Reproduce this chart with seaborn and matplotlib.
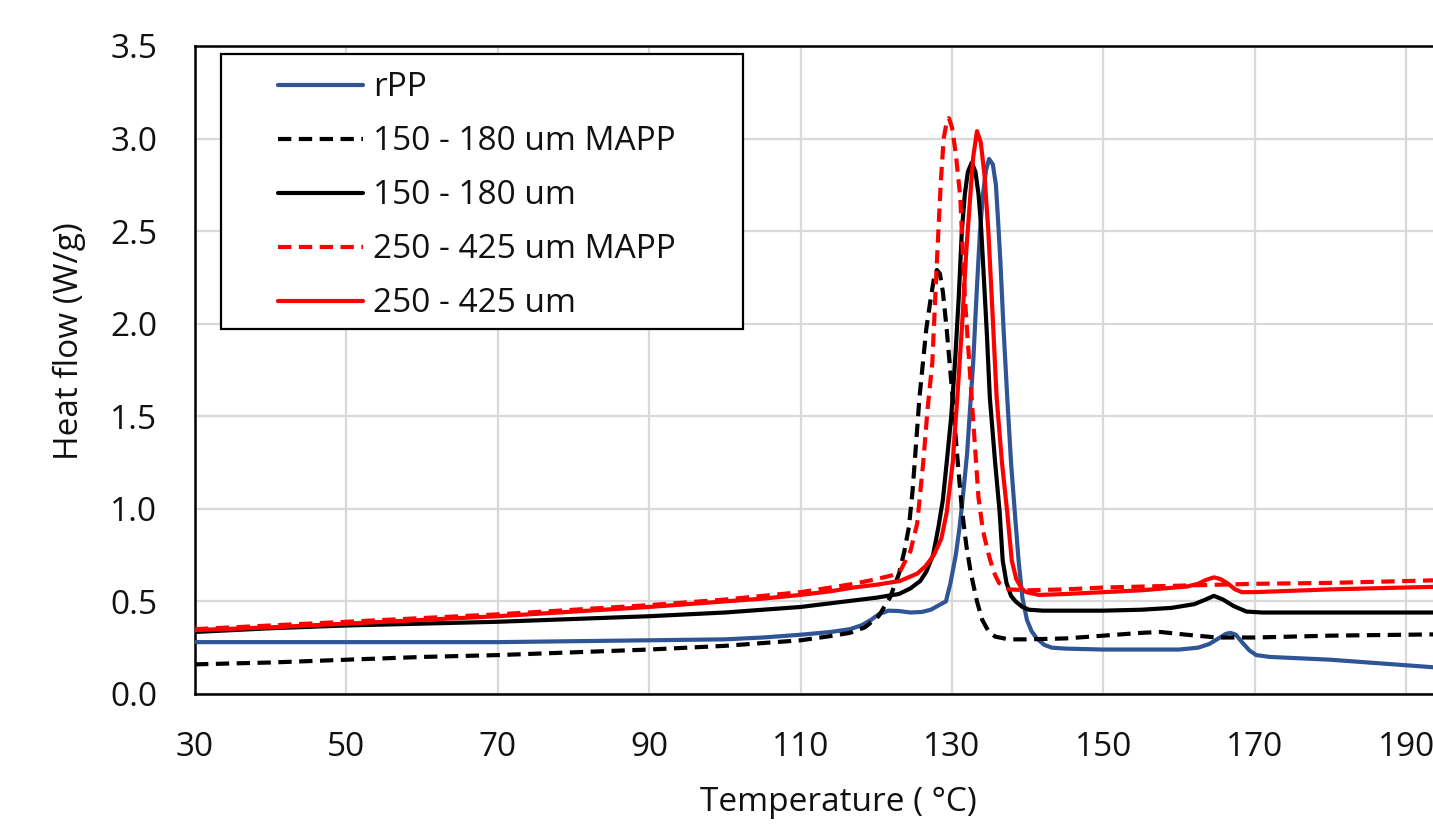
import numpy as np
import pandas as pd
import seaborn as sns
import matplotlib.pyplot as plt
from matplotlib.patches import Rectangle

# DSC curves (Temperature in C, heat flow in W/g)
rpp_T = [30, 40, 50, 60, 70, 80, 90, 100, 105, 110, 114, 116.5, 118, 119.3, 120.3, 121.6, 123, 124.5,
         126, 127.2, 128.3, 129.2, 129.8, 130.5, 131, 131.4, 132, 132.4, 132.8, 133.3, 133.7, 134.1,
         134.5, 134.9, 135.4, 135.8, 136.1, 136.4, 136.8, 137.3, 137.8, 138.3, 138.8, 139.3, 139.9,
         140.5, 141.2, 142.2, 143.2, 145, 150, 155, 160, 162.5, 164, 165.2, 166.2, 166.8, 167.5,
         168.3, 169.3, 170.2, 172, 180, 190, 200]
rpp_v = [0.28, 0.28, 0.28, 0.28, 0.28, 0.285, 0.29, 0.295, 0.305, 0.32, 0.335, 0.35, 0.37, 0.40, 0.43,
         0.45, 0.448, 0.44, 0.443, 0.455, 0.48, 0.5, 0.6, 0.75, 0.9, 1.05, 1.3, 1.55, 1.79, 2.2, 2.5,
         2.7, 2.83, 2.89, 2.86, 2.75, 2.55, 2.33, 1.98, 1.6, 1.25, 0.98, 0.72, 0.52, 0.4, 0.34, 0.3,
         0.265, 0.25, 0.245, 0.24, 0.24, 0.24, 0.25, 0.27, 0.3, 0.325, 0.33, 0.32, 0.28, 0.235, 0.21,
         0.2, 0.185, 0.155, 0.125]

mapp150_T = [30, 40, 50, 60, 70, 80, 90, 100, 105, 110, 113.5, 116.5, 118.5, 120.3, 121.8, 123, 123.7,
             124.3, 124.8, 125.7, 126.6, 127.2, 127.6, 128, 128.4, 128.8, 129.3, 130, 130.6, 131.3,
             131.9, 132.5, 133.3, 134, 134.8, 135.7, 137.5, 140, 145, 150, 155, 157.5, 161, 165, 170,
             180, 190, 200]
mapp150_v = [0.16, 0.17, 0.185, 0.20, 0.21, 0.225, 0.24, 0.26, 0.275, 0.29, 0.31, 0.33, 0.36, 0.42,
             0.52, 0.65, 0.77, 0.9, 1.1, 1.6, 1.97, 2.14, 2.24, 2.29, 2.27, 2.17, 1.97, 1.64, 1.33, 1.0,
             0.8, 0.65, 0.5, 0.4, 0.34, 0.31, 0.295, 0.295, 0.3, 0.315, 0.33, 0.335, 0.32, 0.305, 0.305,
             0.315, 0.32, 0.325]

um150_T = [30, 40, 50, 60, 70, 80, 90, 100, 105, 110, 114, 117, 120, 123, 124.5, 125.8, 126.6, 127.5,
           128.2, 128.8, 129.3, 129.9, 130.4, 130.9, 131.3, 131.7, 132.1, 132.6, 133.1, 133.5, 133.8,
           134.1, 134.6, 135, 135.7, 136.3, 136.7, 137.2, 137.8, 138.4, 139.3, 140.2, 142, 150, 155,
           159, 162, 163.5, 164.6, 165.8, 167.2, 168.9, 171, 180, 190, 200]
um150_v = [0.335, 0.355, 0.37, 0.38, 0.39, 0.405, 0.42, 0.44, 0.455, 0.47, 0.49, 0.505, 0.52, 0.54,
           0.57, 0.61, 0.66, 0.75, 0.9, 1.05, 1.25, 1.5, 1.79, 2.15, 2.5, 2.7, 2.82, 2.87, 2.82, 2.7,
           2.55, 2.33, 1.95, 1.6, 1.25, 0.98, 0.72, 0.6, 0.53, 0.5, 0.47, 0.455, 0.45, 0.45, 0.455,
           0.465, 0.485, 0.51, 0.53, 0.51, 0.475, 0.445, 0.44, 0.44, 0.44, 0.44]

mapp250_T = [30, 40, 50, 60, 70, 80, 90, 100, 105, 110, 114, 117, 120, 122, 123.1, 124.5, 125.4, 126.2,
             126.8, 127.4, 128, 128.5, 128.9, 129.3, 129.6, 130, 130.5, 131.1, 131.7, 132.6, 133.5,
             134.1, 134.8, 135.5, 136.2, 137.5, 140, 145, 150, 160, 170, 180, 190, 200]
mapp250_v = [0.35, 0.37, 0.39, 0.41, 0.43, 0.455, 0.48, 0.51, 0.53, 0.55, 0.575, 0.595, 0.62, 0.64,
             0.66, 0.77, 0.92, 1.25, 1.55, 1.79, 2.33, 2.75, 3.0, 3.09, 3.11, 3.06, 2.92, 2.68, 2.14,
             1.6, 1.06, 0.88, 0.76, 0.66, 0.6, 0.565, 0.56, 0.565, 0.575, 0.585, 0.595, 0.6, 0.61, 0.62]

um250_T = [30, 40, 50, 60, 70, 80, 90, 100, 105, 110, 114, 117, 120, 123.1, 125.4, 126.5, 127.6, 128.6,
           129.3, 130.1, 130.7, 131.3, 131.9, 132.4, 132.8, 133.3, 133.8, 134.3, 134.8, 135.3, 135.9,
           136.6, 137.3, 137.9, 138.5, 139.2, 139.8, 141.5, 145, 150, 155, 161, 162.5, 163.5, 164.6,
           165.5, 166.5, 167.4, 168.3, 170, 180, 190, 200]
um250_v = [0.345, 0.36, 0.38, 0.40, 0.42, 0.445, 0.47, 0.50, 0.515, 0.535, 0.555, 0.575, 0.59, 0.61,
           0.65, 0.69, 0.75, 0.84, 0.98, 1.25, 1.6, 1.97, 2.4, 2.68, 2.9, 3.04, 2.98, 2.8, 2.5, 2.1,
           1.6, 1.25, 0.98, 0.72, 0.62, 0.57, 0.55, 0.535, 0.54, 0.55, 0.56, 0.58, 0.595, 0.615, 0.63,
           0.62, 0.595, 0.565, 0.55, 0.55, 0.565, 0.575, 0.585]

series = [
    ("rPP", rpp_T, rpp_v, "#2F5597", False),
    ("150 - 180 um MAPP", mapp150_T, mapp150_v, "black", True),
    ("150 - 180 um", um150_T, um150_v, "black", False),
    ("250 - 425 um MAPP", mapp250_T, mapp250_v, "#FF0000", True),
    ("250 - 425 um", um250_T, um250_v, "#FF0000", False),
]

x_ticks = [30, 50, 70, 90, 110, 130, 150, 170, 190]
y_ticks = [0.0, 0.5, 1.0, 1.5, 2.0, 2.5, 3.0, 3.5]

sns.set_style("white")
plt.rcParams['font.family'] = ['Open Sans', 'DejaVu Sans']
plt.rcParams['lines.solid_joinstyle'] = 'round'
plt.rcParams['lines.dash_joinstyle'] = 'round'

fig = plt.figure(figsize=(14.33, 8.24), dpi=100)
ax = fig.add_axes([0.1361, 0.1578, 0.898, 0.7864])

for name, T, v, color, dashed in series:
    sns.lineplot(x=T, y=v, ax=ax, color=color, lw=3.0, label=name,
                 estimator=None, sort=False, zorder=3)
    if dashed:
        ax.get_lines()[-1].set_dashes((3.2, 1.8))

ax.set_xlim(30, 200)
ax.set_ylim(0, 3.5)
ax.set_xticks(x_ticks)
ax.set_yticks(y_ticks)
ax.set_yticklabels([f"{t:.1f}" for t in y_ticks])
ax.tick_params(axis='both', length=0, pad=27, labelsize=24, colors='#111111')
ax.grid(True, color='#D9D9D9', lw=1.6, zorder=0)
ax.set_axisbelow(True)

for side in ['left', 'bottom', 'top']:
    ax.spines[side].set_color('black')
    ax.spines[side].set_linewidth(1.8)
ax.spines['right'].set_visible(False)

ax.set_xlabel('Temperature ( °C)', fontsize=24, color='#111111')
ax.set_ylabel('Heat flow (W/g)', fontsize=24, color='#111111')
ax.xaxis.set_label_coords(0.4996, -0.142)
ax.yaxis.set_label_coords(-0.0847, 0.545)

# legend box drawn separately so padding matches the original
ax.add_patch(Rectangle((0.0202, 0.5633), 0.4056, 0.4244, transform=ax.transAxes,
                       facecolor='white', edgecolor='black', lw=1.6, zorder=4))
leg = ax.legend(loc='upper left', bbox_to_anchor=(0.0645, 0.961), frameon=False,
                fontsize=24, handlelength=2.55, handletextpad=0.3, labelspacing=0.63,
                borderaxespad=0, borderpad=0)
leg.set_zorder(5)
for t in leg.get_texts():
    t.set_color('#111111')

plt.savefig('out.png', dpi=100)
